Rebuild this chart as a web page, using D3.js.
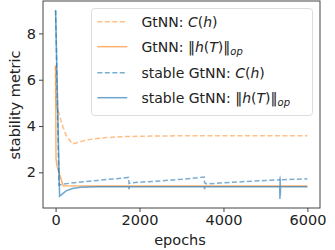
<!DOCTYPE html>
<html>
<head>
<meta charset="utf-8">
<script src="https://cdn.jsdelivr.net/npm/d3@7"></script>
<style>
  body { margin: 0; background: #fff; }
  text { font-family: "DejaVu Sans", sans-serif; fill: #222; }
</style>
</head>
<body>
<div id="container"></div>
<script>
/* DATA */
const xTicks = [0, 2000, 4000, 6000];
const yTicks = [2, 4, 6, 8];

const gtCx = [0, 10, 40, 80, 150, 250, 400, 550, 700, 900, 1200, 1600, 2000, 3000, 4000, 5000, 6000];
const gtCy = [6.6, 5.0, 4.7, 4.55, 4.1, 3.6, 3.23, 3.3, 3.38, 3.44, 3.5, 3.54, 3.56, 3.58, 3.58, 3.58, 3.58];

const gtHx = [0, 10, 30, 180, 1000, 6000];
const gtHy = [6.6, 2.6, 2.3, 1.42, 1.41, 1.41];

const stCx = [0, 80, 200, 600, 1000, 1400, 1740, 1750, 1800, 2500, 3000, 3540, 3550, 3600, 4000, 4500, 5000, 5340, 5350, 5360, 5400, 6000];
const stCy = [9.0, 1.45, 1.5, 1.58, 1.65, 1.72, 1.78, 1.52, 1.55, 1.63, 1.7, 1.8, 1.55, 1.5, 1.55, 1.6, 1.65, 1.68, 1.75, 1.68, 1.68, 1.72];

const stHx = [0, 95, 150, 250, 400, 600, 1000, 1740, 1750, 1760, 3540, 3550, 3560, 5340, 5345, 5350, 5355, 5360, 6000];
const stHy = [9.0, 0.97, 1.05, 1.2, 1.3, 1.36, 1.38, 1.38, 1.28, 1.38, 1.38, 1.28, 1.38, 1.38, 0.85, 1.7, 1.0, 1.38, 1.38];

const orange = "#ff7f0e", blue = "#1f77b4";

const width = 335, height = 250,
  margin = { top: 1, bottom: 42, left: 43, right: 15 };

const xScale = d3.scaleLinear()
  .domain([-300, 6300])
  .range([margin.left, width - margin.right]);

const yScale = d3.scaleLinear()
  .domain([0.46, 9.4])
  .range([height - margin.bottom, margin.top]);

const svg = d3.select("#container")
  .append("svg")
  .attr("width", width)
  .attr("height", height);

// axes
const xAxis = d3.axisBottom(xScale).tickValues(xTicks).tickSize(4).tickPadding(3).tickFormat(d3.format("d"));
const yAxis = d3.axisLeft(yScale).tickValues(yTicks).tickSize(4).tickPadding(3);

const gx = svg.append("g")
  .attr("transform", `translate(0,${height - margin.bottom})`)
  .call(xAxis);
const gy = svg.append("g")
  .attr("transform", `translate(${margin.left},0)`)
  .call(yAxis);

[gx, gy].forEach(g => {
  g.select(".domain").remove();
  g.selectAll("line").attr("stroke", "#444");
  g.selectAll("text").style("font-size", "14.5px").style("fill", "#222")
    .style("font-family", "DejaVu Sans");
});

// lines
const series = [
  { x: gtCx, y: gtCy, color: orange, dash: "5,2.5", op: 0.5 },
  { x: gtHx, y: gtHy, color: orange, dash: null, op: 0.6 },
  { x: stCx, y: stCy, color: blue, dash: "5,2.5", op: 0.6 },
  { x: stHx, y: stHy, color: blue, dash: null, op: 0.65 }
];

const line = d3.line()
  .x(d => xScale(d[0]))
  .y(d => yScale(d[1]));

svg.selectAll("path.series")
  .data(series)
  .join("path")
  .attr("class", "series")
  .attr("d", s => line(s.x.map((v, i) => [v, s.y[i]])))
  .attr("fill", "none")
  .attr("stroke", s => s.color)
  .attr("stroke-opacity", s => s.op)
  .attr("stroke-width", 1.5)
  .attr("stroke-dasharray", s => s.dash);

// frame
svg.append("rect")
  .attr("x", margin.left)
  .attr("y", margin.top)
  .attr("width", width - margin.left - margin.right)
  .attr("height", height - margin.top - margin.bottom)
  .attr("fill", "none")
  .attr("stroke", "#444")
  .attr("stroke-width", 1);

// legend
const legend = svg.append("g");
legend.append("rect")
  .attr("x", 91.5).attr("y", 8.5)
  .attr("width", 221).attr("height", 107)
  .attr("rx", 3)
  .attr("fill", "#fff").attr("fill-opacity", 0.8)
  .attr("stroke", "#ddd");

const legendRows = [
  { s: series[0], label: [["GtNN: ", ""], ["C", "it"], ["(", ""], ["h", "it"], [")", ""]] },
  { s: series[1], label: [["GtNN: ", ""], ["‖", ""], ["h", "it"], ["(", ""], ["T", "it"], [")‖", ""], ["op", "sub"]] },
  { s: series[2], label: [["stable GtNN: ", ""], ["C", "it"], ["(", ""], ["h", "it"], [")", ""]] },
  { s: series[3], label: [["stable GtNN: ", ""], ["‖", ""], ["h", "it"], ["(", ""], ["T", "it"], [")‖", ""], ["op", "sub"]] }
];
const rowY = [21.7, 46.7, 72.7, 97.7];

legendRows.forEach((r, i) => {
  legend.append("line")
    .attr("x1", 97.3).attr("x2", 127.3)
    .attr("y1", rowY[i]).attr("y2", rowY[i])
    .attr("stroke", r.s.color)
    .attr("stroke-opacity", r.s.op)
    .attr("stroke-width", 1.5)
    .attr("stroke-dasharray", r.s.dash);
  const t = legend.append("text")
    .attr("x", 141.5).attr("y", rowY[i] + 5)
    .style("font-size", "14px");
  r.label.forEach(p => {
    const sp = t.append("tspan").text(p[0]);
    if (p[1] === "it") sp.style("font-style", "italic");
    if (p[1] === "sub") sp.style("font-style", "italic").style("font-size", "10px").attr("dy", 3);
  });
});

// axis labels
svg.append("text")
  .attr("x", 180).attr("y", 245)
  .attr("text-anchor", "middle")
  .style("font-size", "14.5px")
  .text("epochs");

svg.append("text")
  .attr("transform", "translate(20,105) rotate(-90)")
  .attr("text-anchor", "middle")
  .style("font-size", "14.5px")
  .text("stability metric");
</script>
</body>
</html>
